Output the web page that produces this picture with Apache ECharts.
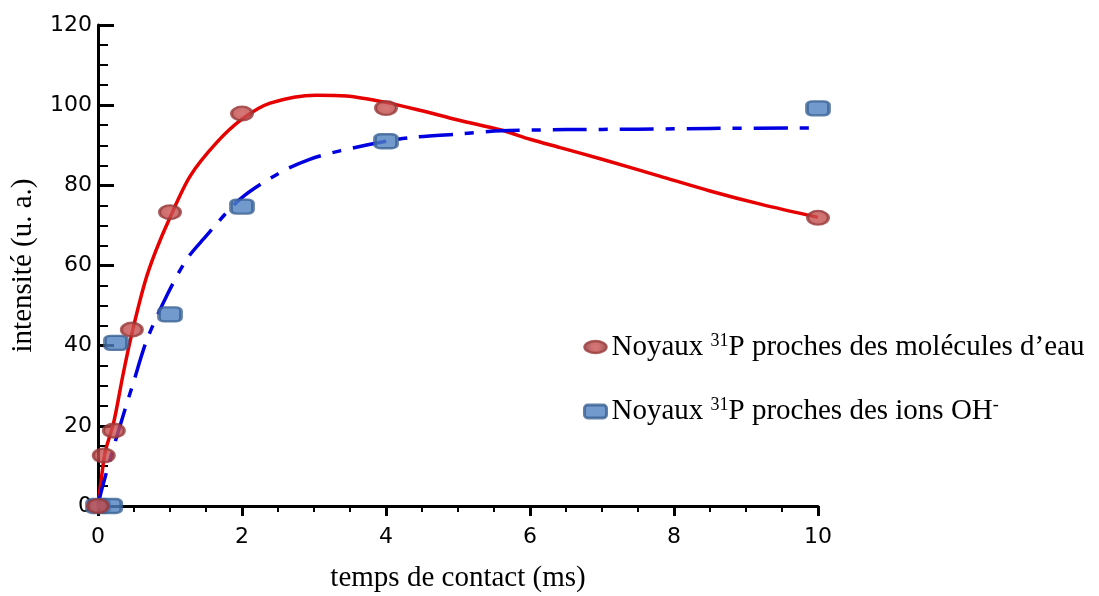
<!DOCTYPE html>
<html>
<head>
<meta charset="utf-8">
<script src="https://cdn.jsdelivr.net/npm/echarts@6/dist/echarts.min.js"></script>
<style>
  html, body { margin: 0; padding: 0; background: #fff; }
  #chart { width: 1099px; height: 596px; }
</style>
</head>
<body>
<div id="chart"></div>
<script>
// points mesurés (temps de contact en ms, intensité u. a.)
const eauPoints = [[0, 0], [0.08, 12.6], [0.22, 18.8], [0.47, 44], [1, 73.3], [2, 97.9], [4, 99.3], [10, 71.9]];
const ohPoints = [[0, 0], [0.17, 0], [0.25, 40.7], [1, 47.8], [2, 74.7], [4, 91], [10, 99.2]];

// courbes tracées à la main
const eauCurve = [
    [0, 0], [0.05, 7.3], [0.1, 13.5], [0.22, 21], [0.35, 33], [0.47, 43], [0.65, 55.7],
    [0.8, 63.5], [1, 72], [1.28, 82.3], [1.65, 90.7], [2, 96.5], [2.39, 100.5], [3.03, 102.5],
    [3.45, 102.3], [4, 100.7], [4.5, 98.6], [5, 96.3], [5.6, 93.8], [6, 91.5], [6.42, 89.4],
    [7, 86.5], [7.8, 82.3], [8.5, 78.6], [9.2, 75.3], [10, 72]
];
const ohCurve = [
    [0, 0], [0.05, 4], [0.26, 17.3], [0.49, 30.7], [0.68, 41.5], [0.97, 53], [1.23, 61.5],
    [1.46, 66.5], [1.97, 76.5], [2.53, 83.2], [2.94, 86.5], [3.36, 88.6], [4, 91], [4.4, 92],
    [5, 92.8], [5.6, 93.6], [6.5, 93.9], [7.5, 94], [8.5, 94.2], [10, 94.3]
];

const xTicks = [0, 2, 4, 6, 8, 10];
const yTicks = [0, 20, 40, 60, 80, 100, 120];

const serif = '"Liberation Serif", "Times New Roman", serif';
const sans = '"DejaVu Sans", sans-serif';

const eauName = 'eau';
const ohName = 'oh';

const eauStyle = {
    color: new echarts.graphic.RadialGradient(0.5, 0.5, 0.5, [
        { offset: 0, color: '#cf5555' },
        { offset: 0.6, color: '#c24c4c' },
        { offset: 1, color: '#a03e3e' }
    ]),
    borderColor: '#993a3a',
    borderWidth: 2.5
};
const ohStyle = {
    color: '#4f81c0',
    borderColor: '#3a6194',
    borderWidth: 3
};
const ellipse = 'path://M0,6a11,6 0 1,0 22,0a11,6 0 1,0 -22,0';

const chart = echarts.init(document.getElementById('chart'));

const option = {
    animation: false,
    grid: { left: 98, right: 281, top: 25, bottom: 90, outerBoundsMode: 'none' },
    legend: {
        orient: 'vertical',
        left: 583,
        top: 332,
        padding: 0,
        itemWidth: 22,
        itemHeight: 13,
        itemGap: 35,
        itemTextGap: 5,
        selectedMode: false,
        data: [
            { name: eauName, icon: ellipse, itemStyle: eauStyle },
            { name: ohName, icon: 'roundRect', itemStyle: ohStyle }
        ],
        formatter: name => name === eauName
            ? '{t|Noyaux }{s|31}{t|P proches des molécules d’eau}'
            : '{t|Noyaux }{s|31}{t|P proches des ions OH}{s|-}',
        textStyle: {
            rich: {
                t: { fontFamily: serif, fontSize: 29, color: '#000', lineHeight: 34 },
                s: { fontFamily: serif, fontSize: 18, color: '#000', padding: [0, 0, 12, 0] }
            }
        }
    },
    xAxis: {
        type: 'value',
        min: 0,
        max: 10,
        interval: 2,
        name: 'temps de contact (ms)',
        nameLocation: 'middle',
        nameGap: 58,
        nameTextStyle: { fontFamily: serif, fontSize: 29, color: '#000' },
        axisLine: { lineStyle: { color: '#000', width: 3 } },
        axisTick: { inside: false, length: 10, lineStyle: { color: '#000', width: 3 } },
        minorTick: { show: true, splitNumber: 4, length: 6, lineStyle: { color: '#000', width: 2 } },
        splitLine: { show: false },
        axisLabel: {
            margin: 20,
            fontFamily: sans,
            fontSize: 22,
            color: '#000',
            formatter: v => xTicks.includes(v) ? String(v) : ''
        }
    },
    yAxis: {
        type: 'value',
        min: 0,
        max: 120,
        interval: 20,
        name: 'intensité (u. a.)',
        nameLocation: 'middle',
        nameGap: 60,
        nameTextStyle: { fontFamily: serif, fontSize: 29, color: '#000' },
        axisLine: { show: true, lineStyle: { color: '#000', width: 3 } },
        axisTick: { show: true, inside: true, length: 16, lineStyle: { color: '#000', width: 3 } },
        minorTick: { show: true, splitNumber: 4, length: 10, lineStyle: { color: '#000', width: 2 } },
        splitLine: { show: false },
        axisLabel: {
            margin: 6,
            fontFamily: sans,
            fontSize: 22,
            color: '#000',
            formatter: v => yTicks.includes(v) ? String(v) : ''
        }
    },
    series: [
        {
            name: 'courbe eau',
            type: 'line',
            data: eauCurve,
            smooth: 0.3,
            showSymbol: false,
            silent: true,
            lineStyle: { color: '#e60000', width: 3.5 },
            z: 2
        },
        {
            name: 'courbe oh',
            type: 'line',
            data: ohCurve,
            smooth: 0.3,
            showSymbol: false,
            silent: true,
            lineStyle: { color: '#0000e0', width: 3.5, type: [34, 12, 9, 12] },
            z: 2
        },
        {
            name: ohName,
            type: 'scatter',
            data: ohPoints,
            symbol: 'roundRect',
            symbolSize: [22, 14],
            itemStyle: ohStyle,
            z: 3
        },
        {
            name: eauName,
            type: 'scatter',
            data: eauPoints,
            symbol: ellipse,
            symbolSize: [21, 14],
            itemStyle: eauStyle,
            z: 4
        }
    ]
};

chart.setOption(option);
</script>
</body>
</html>
